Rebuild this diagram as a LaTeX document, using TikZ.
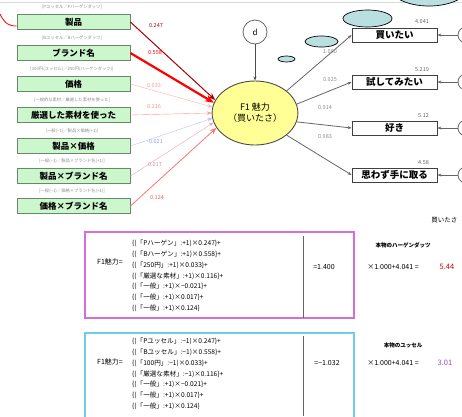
\documentclass[tikz,border=0pt]{standalone}
\usepackage{fontspec}
\setmainfont{Noto Sans CJK JP}
\usetikzlibrary{arrows.meta, positioning, calc, shapes.geometric}
\definecolor{boxgreen}{RGB}{204,246,204}
\definecolor{boxedge}{RGB}{105,135,105}
\definecolor{bubble}{RGB}{186,223,225}
\definecolor{f1yellow}{RGB}{255,255,150}
\definecolor{panelA}{RGB}{215,110,215}
\definecolor{panelB}{RGB}{110,205,232}

\begin{document}
\begin{tikzpicture}[x=1pt, y=-1pt, every node/.style={font=\fontsize{6}{7}\selectfont},
  attr/.style={draw=boxedge, fill=boxgreen, thick, minimum width=113pt, minimum height=15pt, inner sep=0pt, font=\fontsize{8.5}{9}\selectfont\bfseries},
  tag/.style={font=\fontsize{4.3}{5}\selectfont, text=black!45},
  item/.style={draw=black!75, fill=white, thick, minimum width=85pt, minimum height=14pt, inner sep=0pt, font=\fontsize{9.5}{10}\selectfont\bfseries},
  coef/.style={font=\fontsize{5.5}{6}\selectfont},
  err/.style={circle, draw=black!60, thick, minimum size=16pt, inner sep=0pt},
  cloud/.style={ellipse, draw=black, fill=bubble, line width=0.7pt, inner sep=0pt},
  formula/.style={align=left, anchor=north west, inner sep=0pt, font=\fontsize{6.6}{10.8}\selectfont},
  load/.style={-{Stealth[length=4pt]}, black!60, thick}]
  \path[use as bounding box, fill=white] (0,0) rectangle (462,416);
  \draw[black!15] (0,2) -- (462,2);

  \foreach \y/\lab/\tg [count=\i] in {22/製品/[Pユッセル／Pハーゲンダッツ], 53/ブランド名/[Bユッセル／Bハーゲンダッツ], 84/価格/[100円(ユッセル)／250円(ハーゲンダッツ)], 115/厳選した素材を使った/[一般的な素材／厳選した素材を使った], 146/製品×価格/[一般(−1)／製品×価格(+1)], 176/製品×ブランド名/[一般(−1)／製品×ブランド名(+1)], 206/価格×ブランド名/[一般(−1)／価格×ブランド名(+1)]}{
    \node[attr] (in\i) at (73.5,\y) {\lab};
    \node[tag] (tg\i) at (72,\y-14.5) {\tg};
  }

  \node[ellipse, draw=black!70, fill=f1yellow, line width=0.9pt, minimum width=80pt, minimum height=64pt, align=center, font=\fontsize{9}{11}\selectfont] (f1) at (255,113) {F1 魅力\\（買いたさ）};
  \node[err, minimum size=24pt, font=\fontsize{8}{9}\selectfont\itshape] (d) at (255,32) {d};
  \draw[-{Stealth[length=4pt]}, black!70, thick] (d) -- (f1);

  \draw[-{Stealth}, red!65!black, line width=1pt] (in1.east) -- (f1.162);
  \draw[-{Stealth[length=9pt, width=7pt]}, red, line width=2.2pt] (in2.east) -- (f1.166);
  \draw[-{Stealth}, red!30] (in3.east) -- (f1.172);
  \draw[-{Stealth}, red!40] (in4.east) -- (f1.180);
  \draw[-{Stealth}, blue!25] (in5.east) -- (f1.187);
  \draw[-{Stealth}, blue!30!red!35] (in6.east) -- (f1.193);
  \draw[-{Stealth}, red!55, line width=0.8pt] (in7.east) -- (f1.201);

  \foreach \x/\y/\v/\c [count=\i] in {156/26/0.247/red!70!black, 155/53/0.558/red, 154/86/0.033/red!40, 154/107/0.116/red!45, 155/142/-0.021/blue!40, 155/165/0.017/blue!30!red!45, 157/198/0.124/red!65}{
    \node[coef, text=\c] (k\i) at (\x,\y) {\v};
  }

  \node[item] (out1) at (394.5,35) {買いたい};
  \node[item] (out2) at (394.5,82) {試してみたい};
  \node[item] (out3) at (394.5,128) {好き};
  \node[item] (out4) at (394.5,175) {思わず手に取る};
  \draw[load] (f1.35) -- (out1.west);
  \draw[load] (f1.12) -- (out2.west);
  \draw[load] (f1.-12) -- (out3.west);
  \draw[load] (f1.-35) -- (out4.west);
  \node[coef, text=black!45] (l1) at (330,52) {1.000};
  \node[coef, text=black!45] (l2) at (330,80) {0.925};
  \node[coef, text=black!45] (l3) at (325,108) {0.914};
  \node[coef, text=black!45] (l4) at (325,137) {0.983};
  \node[coef, text=black!60, anchor=south east] (b1) at ([xshift=-5pt]out1.north east) {4.041};
  \node[coef, text=black!60, anchor=south east] (b2) at ([xshift=-5pt]out2.north east) {5.219};
  \node[coef, text=black!60, anchor=south east] (b3) at ([xshift=-5pt]out3.north east) {5.12};
  \node[coef, text=black!60, anchor=south east] (b4) at ([xshift=-5pt]out4.north east) {4.58};
  \foreach \i/\y in {1/35, 2/82, 3/128, 4/175}{
    \node[err] (e\i) at (466,\y) {};
    \draw[load] (e\i) -- (out\i.east);
  }

  \node[cloud, minimum width=80pt, minimum height=40pt] (c4) at (429,-14) {};
  \node[cloud, minimum width=49pt, minimum height=17pt] (c3) at (367.5,18.5) {};
  \node[cloud, minimum width=33pt, minimum height=11pt] (c2) at (321.5,41.5) {};
  \node[cloud, minimum width=17pt, minimum height=6pt] (c1) at (286.5,59) {};
  \coordinate (redtail) at (0,14);
  \draw[red, thick] (redtail) .. controls (5,24) and (9,26) .. ([yshift=-4pt]in1.west);

  \node[anchor=east, font=\fontsize{6.5}{7}\selectfont] (ttl) at (461,220) {買いたさ};

  \draw[panelA, line width=1.2pt] (85,232) rectangle (354,318);
  \node[font=\fontsize{7}{8}\selectfont] (fa) at (110,262) {F1魅力=};
  \node[formula] (sa) at (132,240) {\{(「Pハーゲン」:+1)×0.247\}+\\\{(「Bハーゲン」:+1)×0.558\}+\\\{(「250円」:+1)×0.033\}+\\\{(「厳選な素材」:+1)×0.116\}+\\\{(「一般」:+1)×−0.021\}+\\\{(「一般」:+1)×0.017\}+\\\{(「一般」:+1)×0.124\}};
  \draw[black!60] (303,236) -- (303,318);
  \node[font=\fontsize{7}{8}\selectfont] (va) at (324,267) {=1.400};
  \node[font=\fontsize{5.5}{6}\selectfont\bfseries] (ta) at (403,245) {本物のハーゲンダッツ};
  \node[font=\fontsize{7}{8}\selectfont] (ma) at (393,267) {×1.000+4.041 =};
  \node[font=\fontsize{7.5}{8}\selectfont, text=red!80!black] (ra) at (447,267) {5.44};

  \draw[panelB, line width=1.2pt] (85,333) rectangle (354,430);
  \node[font=\fontsize{7}{8}\selectfont] (fb) at (110,362) {F1魅力=};
  \node[formula] (sb) at (132,338) {\{(「Pユッセル」:−1)×0.247\}+\\\{(「Bユッセル」:−1)×0.558\}+\\\{(「100円」:−1)×0.033\}+\\\{(「厳選な素材」:−1)×0.116\}+\\\{(「一般」:+1)×−0.021\}+\\\{(「一般」:+1)×0.017\}+\\\{(「一般」:+1)×0.124\}};
  \draw[black!60] (303,336) -- (303,416);
  \node[font=\fontsize{7}{8}\selectfont] (vb) at (327,363) {=−1.032};
  \node[font=\fontsize{5.5}{6}\selectfont\bfseries] (tb) at (403,345) {本物のユッセル};
  \node[font=\fontsize{7}{8}\selectfont] (mb) at (393,363) {×1.000+4.041 =};
  \node[font=\fontsize{7.5}{8}\selectfont, text=blue!60!red!70] (rb) at (445,363) {3.01};
\end{tikzpicture}
\end{document}
